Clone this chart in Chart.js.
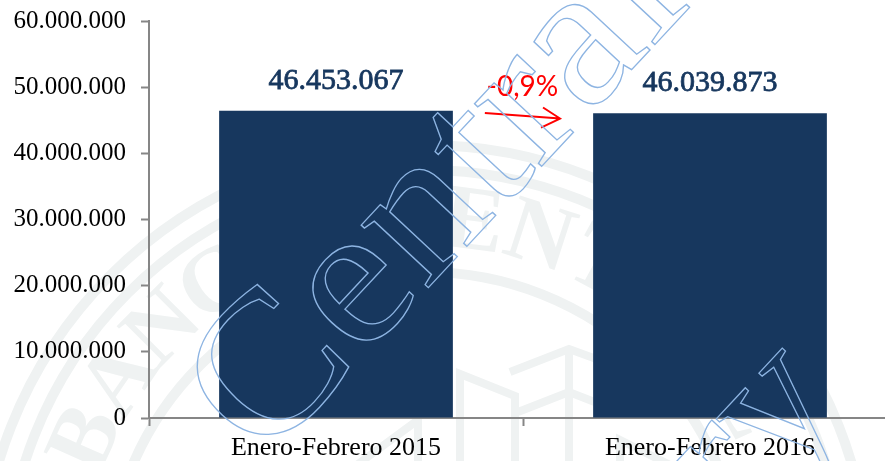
<!DOCTYPE html>
<html>
<head>
<meta charset="utf-8">
<script src="https://cdn.jsdelivr.net/npm/chart.js@4"></script>
<style>
    html, body { margin: 0; padding: 0; background: #fff; overflow: hidden; width: 885px; height: 461px; }
    canvas { display: block; }
</style>
</head>
<body>
<canvas id="myChart" width="900" height="461"></canvas>
<script>
const categories = ['Enero-Febrero 2015', 'Enero-Febrero 2016'];
const values = [46453067, 46039873];
const yTicks = [0, 10000000, 20000000, 30000000, 40000000, 50000000, 60000000];
const changeLabel = '-0,9%';
const arrowX = [0.398, 0.599];
const arrowY = [46100000, 45260000];

const serif = '"Liberation Serif", serif';
const barColor = '#17375e';
const axisColor = '#868686';

function fmt(n) {
    return String(n).replace(/\B(?=(\d{3})+$)/g, '.');
}

// seal behind the chart, only decoration
const sealPlugin = {
    id: 'seal',
    beforeDraw(chart) {
        const c = chart.ctx;
        const cx = 425, cy = 590;
        c.save();
        c.strokeStyle = '#eff2f2';
        c.fillStyle = '#eff2f2';
        c.lineWidth = 10;
        for (let r of [445, 420, 318]) {
            c.beginPath();
            c.arc(cx, cy, r, 0, Math.PI * 2);
            c.stroke();
        }
        c.font = 'bold 92px ' + serif;
        c.textAlign = 'center';
        c.textBaseline = 'middle';
        const word = 'BANCO CENTRAL';
        for (let i = 0; i < word.length; i++) {
            const a = (-66 + i * 10.5) * Math.PI / 180;
            c.save();
            c.translate(cx + 368 * Math.sin(a), cy - 368 * Math.cos(a));
            c.rotate(a);
            c.fillText(word[i], 0, 0);
            c.restore();
        }
        c.lineWidth = 8;
        const lines = [
            [[350, 470], [418, 420], [418, 470]],
            [[460, 470], [460, 374], [515, 396], [515, 470]],
            [[510, 372], [569, 349], [610, 364]],
            [[518, 412], [569, 392], [610, 408]],
            [[569, 349], [569, 470]],
            [[620, 470], [620, 440], [680, 470]]
        ];
        for (let pts of lines) {
            c.beginPath();
            pts.forEach((p, i) => i ? c.lineTo(p[0], p[1]) : c.moveTo(p[0], p[1]));
            c.stroke();
        }
        c.restore();
    }
};

const labelPlugin = {
    id: 'labels',
    afterDatasetsDraw(chart) {
        const c = chart.ctx;
        const meta = chart.getDatasetMeta(0);
        const xs = chart.scales.x, ys = chart.scales.y;
        c.save();
        c.font = '30px ' + serif;
        c.fillStyle = barColor;
        c.strokeStyle = barColor;
        c.lineWidth = 0.8;
        c.textAlign = 'center';
        c.textBaseline = 'middle';
        meta.data.forEach((bar, i) => {
            c.fillText(fmt(values[i]), bar.x, bar.y - 30);
            c.strokeText(fmt(values[i]), bar.x, bar.y - 30);
        });

        const x0 = xs.getPixelForValue(arrowX[0]), x1 = xs.getPixelForValue(arrowX[1]);
        const y0 = ys.getPixelForValue(arrowY[0]), y1 = ys.getPixelForValue(arrowY[1]);
        c.strokeStyle = '#ff0000';
        c.lineWidth = 2;
        c.beginPath();
        c.moveTo(x0, y0);
        c.lineTo(x1, y1);
        c.moveTo(x1 - 17, y1 - 11);
        c.lineTo(x1, y1);
        c.lineTo(x1 - 19, y1 + 9);
        c.stroke();
        c.font = '28px Lato, sans-serif';
        c.fillStyle = '#ff0000';
        c.fillText(changeLabel, (x0 + x1) / 2, y0 - 26);
        c.restore();
    }
};

// outlined watermark, goes over the bars
const watermarkPlugin = {
    id: 'watermark',
    afterDraw(chart) {
        const c = chart.ctx;
        c.save();
        c.strokeStyle = '#8db4e2';
        c.lineWidth = 1.3;
        c.font = '200px ' + serif;
        c.textBaseline = 'alphabetic';
        c.save();
        c.translate(263, 465);
        c.rotate(-47 * Math.PI / 180);
        c.scale(1.07, 1);
        c.strokeText('Central', 0, 0);
        c.restore();
        c.save();
        c.translate(850, 410);
        c.rotate(-47 * Math.PI / 180);
        c.textAlign = 'right';
        c.strokeText('ry', 0, 0);
        c.restore();
        c.restore();
    }
};

var myChart = new Chart(document.getElementById('myChart'), {
    type: 'bar',
    data: {
        labels: categories,
        datasets: [{
            data: values,
            backgroundColor: barColor,
            borderWidth: 0,
            barPercentage: 0.625,
            categoryPercentage: 1
        }]
    },
    options: {
        responsive: false,
        animation: false,
        layout: { padding: { top: 21, right: 3, left: 0, bottom: 0 } },
        plugins: { legend: { display: false }, tooltip: { enabled: false } },
        scales: {
            x: {
                afterFit(scale) { scale.height = 43; },
                border: { color: axisColor, width: 2 },
                grid: { drawOnChartArea: false, color: axisColor, tickLength: 8, tickWidth: 2 },
                ticks: { color: '#000', font: { family: serif, size: 26 }, padding: 7, maxRotation: 0 }
            },
            y: {
                min: 0,
                max: 60000000,
                afterFit(scale) {
                    scale.width = 149;
                    scale.paddingTop = 0;
                    scale.paddingBottom = 0;
                },
                afterBuildTicks(scale) { scale.ticks = yTicks.map(v => ({ value: v })); },
                border: { color: axisColor, width: 2 },
                grid: { drawOnChartArea: false, color: axisColor, tickLength: 8, tickWidth: 2 },
                ticks: { color: '#000', font: { family: serif, size: 25 }, padding: 15, callback: v => fmt(v) }
            }
        }
    },
    plugins: [sealPlugin, labelPlugin, watermarkPlugin]
});
</script>
</body>
</html>
